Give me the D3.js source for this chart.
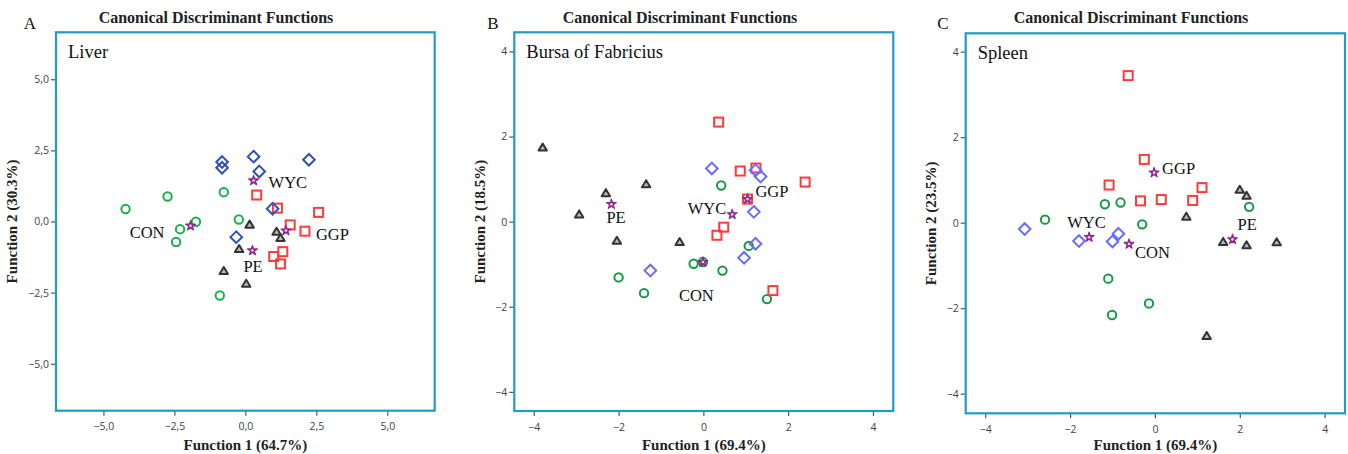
<!DOCTYPE html>
<html>
<head>
<meta charset="utf-8">
<script src="https://cdn.jsdelivr.net/npm/d3@7"></script>
<style>
  body { margin: 0; background: #fff; }
  svg { display: block; }
</style>
</head>
<body>
<svg id="chart" width="1348" height="454"></svg>
<script>
// ---------------- DATA ----------------
const groups = ["CON", "WYC", "GGP", "PE"];

const panelLetters = ["A", "B", "C"];
const panelNames = ["Liver", "Bursa of Fabricius", "Spleen"];
const xTitles = ["Function 1 (64.7%)", "Function 1 (69.4%)", "Function 1 (69.4%)"];
const yTitles = ["Function 2 (30.3%)", "Function 2 (18.5%)", "Function 2 (23.5%)"];
const chartTitle = "Canonical Discriminant Functions";

const ticksA = [-5, -2.5, 0, 2.5, 5];
const ticksBC = [-4, -2, 0, 2, 4];

// Liver
const liverCON = [[-4.22,0.44],[-2.74,0.88],[-2.30,-0.27],[-2.44,-0.72],[-1.74,-0.01],[-0.76,1.03],[-0.23,0.07],[-0.90,-2.60]];
const liverWYC = [[-0.82,2.09],[-0.82,1.89],[0.29,2.28],[0.49,1.76],[2.24,2.17],[0.96,0.45],[-0.32,-0.55]];
const liverGGP = [[0.40,0.93],[1.13,0.47],[2.58,0.32],[1.58,-0.12],[2.10,-0.34],[1.32,-1.06],[1.00,-1.23],[1.24,-1.49]];
const liverPE  = [[0.15,-0.11],[1.10,-0.36],[1.24,-0.58],[-0.22,-0.97],[-0.76,-1.74],[0.03,-2.19]];
const liverCentroids = [[-1.93,-0.15],[0.29,1.44],[1.43,-0.32],[0.25,-1.02]];

// Bursa of Fabricius
const bursaCON = [[0.42,0.85],[1.07,-0.57],[-0.23,-0.99],[-0.01,-0.95],[0.45,-1.15],[-2.00,-1.31],[-1.40,-1.68],[1.50,-1.82]];
const bursaWYC = [[0.20,1.25],[1.23,1.21],[1.35,1.06],[1.19,0.23],[1.23,-0.52],[0.96,-0.85],[-1.25,-1.15]];
const bursaGGP = [[0.36,2.34],[0.87,1.19],[1.24,1.26],[2.40,0.93],[1.04,0.53],[0.48,-0.13],[0.32,-0.32],[1.64,-1.62]];
const bursaPE  = [[-3.79,1.74],[-2.30,0.67],[-2.93,0.17],[-1.35,0.88],[-2.04,-0.45],[-0.56,-0.48]];
const bursaCentroids = [[-0.01,-0.95],[0.68,0.17],[1.04,0.53],[-2.17,0.41]];

// Spleen
const spleenCON = [[-2.59,0.07],[-1.18,0.43],[-0.81,0.47],[-0.30,-0.04],[2.22,0.37],[-1.10,-1.31],[-0.14,-1.89],[-1.01,-2.16]];
const spleenWYC = [[-3.07,-0.15],[-1.79,-0.43],[-0.86,-0.26],[-1.00,-0.44]];
const spleenGGP = [[-0.63,3.44],[-0.25,1.48],[-1.08,0.88],[1.11,0.82],[-0.34,0.51],[0.15,0.54],[0.89,0.52]];
const spleenPE  = [[2.00,0.77],[2.16,0.63],[0.74,0.14],[1.61,-0.45],[2.16,-0.53],[2.87,-0.46],[1.22,-2.65]];
const spleenCentroids = [[-0.61,-0.50],[-1.55,-0.34],[-0.02,1.17],[1.83,-0.39]];

// ---------------- LAYOUT / STYLE ----------------
const layout = [
  { left: 56,    top: 32.3, right: 434.7, bottom: 410.7, xd: [-6.67, 6.67], yd: [-6.65, 6.65], ticks: ticksA, fmt: d => d3.format(".1f")(d).replace(".", ","), letterX: 30, titleX: 216, ylabX: 13,
    diamond: "#3050b8", green: "#19b04a",
    // label offsets from centroid (px): [dx, dy, anchor]
    lab: [[-26, 12, "end"], [15, 7, "start"], [30, 9, "start"], [-9, 21, "start"]] },
  { left: 514.3, top: 32.3, right: 893.3, bottom: 411, xd: [-4.46, 4.48], yd: [-4.45, 4.45], ticks: ticksBC, fmt: d3.format("d"), letterX: 493, titleX: 680, ylabX: 481,
    diamond: "#6a6aff", green: "#149a44",
    lab: [[-24, 39, "start"], [-6, 0, "end"], [8, -2, "start"], [-5, 19, "start"]] },
  { left: 965.7, top: 33.3, right: 1345, bottom: 413.3, xd: [-4.46, 4.48], yd: [-4.46, 4.43], ticks: ticksBC, fmt: d3.format("d"), letterX: 943, titleX: 1131, ylabX: 932,
    diamond: "#6a6aff", green: "#149a44",
    lab: [[6, 14, "start"], [-22, -9, "start"], [8, 1, "start"], [5, -9, "start"]] }
];

const panelData = [
  { series: [liverCON, liverWYC, liverGGP, liverPE], centroids: liverCentroids },
  { series: [bursaCON, bursaWYC, bursaGGP, bursaPE], centroids: bursaCentroids },
  { series: [spleenCON, spleenWYC, spleenGGP, spleenPE], centroids: spleenCentroids }
];

const serif = "'Liberation Serif', 'Times New Roman', serif";
const svg = d3.select("#chart");

panelData.forEach((pd, i) => {
  const L = layout[i];
  const x = d3.scaleLinear().domain(L.xd).range([L.left, L.right]);
  const y = d3.scaleLinear().domain(L.yd).range([L.bottom, L.top]);
  const g = svg.append("g");

  // panel letter
  g.append("text").attr("x", L.letterX).attr("y", 29)
    .attr("font-family", serif).attr("font-size", 17)
    .attr("text-anchor", "middle").attr("fill", "#111").text(panelLetters[i]);

  // title
  g.append("text").attr("x", L.titleX).attr("y", 23)
    .attr("font-family", serif).attr("font-weight", "bold").attr("font-size", 16)
    .attr("text-anchor", "middle").attr("fill", "#222").text(chartTitle);

  // axes
  const xAxis = d3.axisBottom(x).tickValues(L.ticks).tickFormat(L.fmt).tickSize(5).tickSizeOuter(0);
  const yAxis = d3.axisLeft(y).tickValues(L.ticks).tickFormat(L.fmt).tickSize(5).tickSizeOuter(0);
  const gx = g.append("g").attr("transform", `translate(0,${L.bottom})`).call(xAxis);
  const gy = g.append("g").attr("transform", `translate(${L.left},0)`).call(yAxis);
  [gx, gy].forEach(ax => {
    ax.select(".domain").remove();
    ax.selectAll(".tick line").attr("stroke", "#555").attr("stroke-width", 1.2);
    ax.selectAll(".tick text").attr("fill", "#444").attr("font-family", "'Open Sans', 'DejaVu Sans', sans-serif").attr("font-size", 10.5);
  });
  gx.selectAll(".tick text").attr("dy", "1.1em");
  gy.selectAll(".tick text").attr("dx", "0.1em");

  // frame
  g.append("rect").attr("x", L.left).attr("y", L.top)
    .attr("width", L.right - L.left).attr("height", L.bottom - L.top)
    .attr("fill", "none").attr("stroke", "#1f9cc6").attr("stroke-width", 2.2);

  // panel name
  g.append("text").attr("x", L.left + 12).attr("y", L.top + 26)
    .attr("font-family", serif).attr("font-size", 18.5).attr("fill", "#111").text(panelNames[i]);

  // axis titles
  g.append("text").attr("x", (L.left + L.right) / 2).attr("y", 450)
    .attr("font-family", serif).attr("font-weight", "bold").attr("font-size", 15)
    .attr("text-anchor", "middle").attr("fill", "#222").text(xTitles[i]);
  g.append("text").attr("transform", `translate(${L.ylabX + 4},${(L.top + L.bottom) / 2}) rotate(-90)`)
    .attr("font-family", serif).attr("font-weight", "bold").attr("font-size", 15)
    .attr("text-anchor", "middle").attr("fill", "#222").text(yTitles[i]);

  const marks = g.append("g");
  // CON: circles
  marks.selectAll(".con").data(pd.series[0]).join("circle")
    .attr("cx", d => x(d[0])).attr("cy", d => y(d[1])).attr("r", 4.2)
    .attr("fill", "none").attr("stroke", L.green).attr("stroke-width", 2);
  // GGP: squares
  marks.selectAll(".ggp").data(pd.series[2]).join("rect")
    .attr("x", d => x(d[0]) - 4.5).attr("y", d => y(d[1]) - 4.5).attr("width", 9).attr("height", 9)
    .attr("fill", "none").attr("stroke", "#ff3a3a").attr("stroke-width", 2);
  // WYC: diamonds
  marks.selectAll(".wyc").data(pd.series[1]).join("path")
    .attr("d", d => { const cx = x(d[0]), cy = y(d[1]), r = 5.8; return `M${cx},${cy - r}L${cx + r},${cy}L${cx},${cy + r}L${cx - r},${cy}Z`; })
    .attr("fill", "none").attr("stroke", L.diamond).attr("stroke-width", 2);
  // PE: triangles
  marks.selectAll(".pe").data(pd.series[3]).join("path")
    .attr("d", d => { const cx = x(d[0]), cy = y(d[1]); return `M${cx},${cy - 4}L${cx + 4.2},${cy + 3}L${cx - 4.2},${cy + 3}Z`; })
    .attr("fill", "#bbb").attr("stroke", "#333").attr("stroke-width", 2).attr("stroke-linejoin", "round");

  // centroids (small gear-like marks)
  const cg = marks.selectAll(".cen").data(pd.centroids).join("g")
    .attr("transform", d => `translate(${x(d[0])},${y(d[1])})`);
  cg.append("path").attr("d", d3.symbol(d3.symbolStar, 30)())
    .attr("fill", "#9a3a9a").attr("stroke", "#8a2a8a").attr("stroke-width", 1.2).attr("stroke-linejoin", "round");
  cg.append("circle").attr("r", 1.3).attr("fill", "#e8c8e8");

  // group labels
  g.selectAll(".lab").data(pd.centroids).join("text")
    .attr("x", (d, k) => x(d[0]) + L.lab[k][0])
    .attr("y", (d, k) => y(d[1]) + L.lab[k][1])
    .attr("text-anchor", (d, k) => L.lab[k][2])
    .attr("font-family", serif).attr("font-size", 16.5).attr("fill", "#111")
    .text((d, k) => groups[k]);
});
</script>
</body>
</html>
